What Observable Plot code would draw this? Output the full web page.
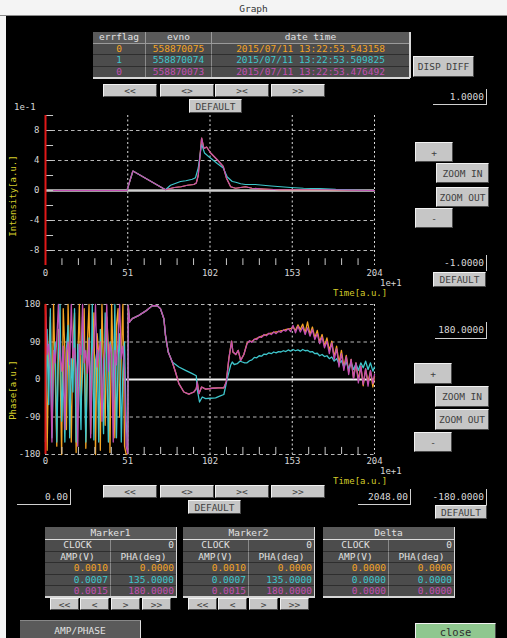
<!DOCTYPE html>
<html><head><meta charset="utf-8">
<script src="https://cdn.jsdelivr.net/npm/d3@7"></script>
<script src="https://cdn.jsdelivr.net/npm/@observablehq/plot@0.6"></script>
<style>
html,body{margin:0;padding:0;background:#fff;}
#root{position:relative;width:507px;height:638px;background:#f4f4f4;overflow:hidden;font-family:"DejaVu Sans Mono",monospace;font-size:9.5px;}
#panel{position:absolute;left:6px;top:16px;width:501px;height:622px;background:#000;}
.a{position:absolute;box-sizing:border-box;white-space:nowrap;overflow:hidden;}
.btn{background:#c6c6c6;color:#404040;text-align:center;border:1px solid;border-color:#f2f2f2 #4a4a4a #4a4a4a #f2f2f2;}
.fld{color:#d8d8d8;text-align:right;padding-right:2px;border-right:1px solid #d0d0d0;border-bottom:1px solid #d0d0d0;}
.hd{background:#5a5a5a;color:#e2e2e2;text-align:center;border-right:1px solid #9a9a9a;border-bottom:1px solid #9a9a9a;}
.cl{background:#4c4c4c;text-align:center;border-right:1px solid #8a8a8a;border-bottom:1px solid #2e2e2e;}
.r{text-align:right;padding-right:2px;}
.lbl{color:#d6d6d6;font-size:9px;}
.yl{color:#d4cc2a;font-size:9px;}
svg{position:absolute;left:0;}
</style></head>
<body><div id="root"><div id="panel"></div></div>
<script>
// ---------------- data ----------------
const seriesColors = ["#f4a323", "#3ec6cc", "#c24fb2"]; // orange, cyan, magenta
const infoHeaders = ["errflag", "evno", "date time"];
const errflags = ["0", "1", "0"];
const evnos = ["558870075", "558870074", "558870073"];
const datetimes = ["2015/07/11 13:22:53.543158", "2015/07/11 13:22:53.509825", "2015/07/11 13:22:53.476492"];

const xTickLabels = [0, 51, 102, 153, 204];
const xMinorTicks = [10.2, 20.4, 30.6, 40.8, 61.2, 71.4, 81.6, 91.8, 112.2, 122.4, 132.6, 142.8, 163.2, 173.4, 183.6, 193.8];
const intensityTicks = [8, 4, 0, -4, -8];
const intensityMinorTicks = [10, 8, 6, 4, 2, 0, -2, -4, -6, -8];
const intensityGrid = [8, 4, -4, -8];
const phaseTicks = [180, 90, 0, -90, -180];
const phaseGrid = [180, 90, -90, -180];

// intensity (x 1e-1), time (x 1e+1)
const intensityTimeMagenta = [0, 50.5, 54.2, 74.4, 76, 80, 84, 88, 92, 93.5, 94.7, 96.8, 98.2, 99.9, 102.4, 106.5, 110.2, 112.3, 114.8, 117.9, 121, 124, 128, 135, 145, 160, 175, 190, 204];
const intensityMagenta = [0, 0, 2.6, 0.1, 0.2, 0.4, 0.5, 0.7, 0.8, 1.0, 2.0, 7.0, 5.6, 5.8, 5.0, 4.1, 3.2, 1.6, 0.5, 0.3, 0.4, 0.5, 0.3, 0.2, 0.1, 0.1, 0.1, 0.05, 0];
const intensityTimeCyan = [0, 50.5, 54.2, 74.4, 77.5, 80, 83.7, 87, 91, 93, 94.7, 96.8, 98.6, 101.3, 106.5, 110.2, 112.7, 115.8, 118, 121, 124, 130, 140, 152, 160, 170, 180, 190, 204];
const intensityCyan = [0, 0, 2.6, 0.1, 0.7, 0.9, 1.2, 1.3, 1.5, 1.7, 3.0, 6.2, 5.0, 4.5, 3.6, 3.0, 1.8, 1.2, 1.1, 0.9, 0.8, 0.8, 0.6, 0.4, 0.3, 0.25, 0.15, 0.1, 0.0];
const intensityTimeOrange = intensityTimeMagenta;
const intensityOrange = intensityMagenta;

// phase (deg)
const noiseTime = [0,1,2,3,4,5,6,7,8,9,10,11,12,13,14,15,16,17,18,19,20,21,22,23,24,25,26,27,28,29,30,31,32,33,34,35,36,37,38,39,40,41,42,43,44,45,46,47,48,49,50];
const noiseOrange = [180,-170,60,150,-90,180,10,-160,120,40,-180,170,70,-120,180,30,-150,100,160,-175,50,180,-60,20,170,-165,90,180,-130,40,160,-180,110,60,-170,180,20,-110,150,80,-175,180,40,-140,130,170,-90,60,180,-160,-180];
const noiseCyan = [-150,120,-60,170,-140,40,90,-150,60,180,-100,20,-150,75,130,-140,50,-30,170,-150,85,10,-120,150,60,-150,30,100,-80,180,-145,45,70,-150,120,0,-130,160,40,-150,90,70,-60,180,-140,50,110,-150,20,90,-100];
const noiseMagenta = [175,60,85,30,-150,70,40,95,180,55,20,80,-120,65,90,35,180,50,75,25,-160,85,60,180,40,70,15,95,-140,55,80,180,30,65,90,-100,45,75,180,20,85,60,-150,70,35,95,180,50,80,25,-160];

const midTimeMagenta = [51,51.3,52.1,53.8,57.9,62,66.2,69.3,71.3,73.4,74.4,76.1,78.6,80.6,82.7,85.8,88.9,92,93.5,94.1,95.1,96.8,99.3,103.4,107,110.6,112.1,113.7,115.4,116.2,118,119.5,121,123];
const midMagenta = [-178,178,138,146,154,164,177,177,170,146,106,66,42,18,-10,-30,-35,-30,-22,-6,-34,-18,-23,-21,-20,-20,-6,50,92,66,60,70,46,60];
const midTimeCyan = [51,51.3,52.1,53.8,57.9,62,66.2,69.3,71.3,73.4,74.4,76.1,78.6,82.7,86.8,91,93.5,94.1,95.5,97.2,99.3,102,105.5,108,110.6,112.7,114.8,115.8,117,118.9,120.5,122,123.5];
const midCyan = [-178,178,138,146,154,164,177,177,170,146,106,66,42,30,22,14,9,-24,-54,-42,-46,-45,-44,-40,-36,2,34,42,36,38,44,42,40];
const midTimeOrange = midTimeMagenta;
const midOrange = midMagenta;

const tailTime = [125,126.5,128,129.5,131,132.5,134,135.5,137,138.5,140,141.5,143,144.5,146,147.5,149,150.5,152,153.5,155,156.5,158,159.5,161,162.5,164,165.5,167,168.5,170,171.5,173,174.5,176,177.5,179,180.5,182,183.5,185,186.5,188,189.5,191,192.5,194,195.5,197,198.5,200,201.5,203,204];
const tailOrange = [88,92,91,96,99,101,104,106,108,110,111,113,114,115,117,118,120,121,122,126,118,131,120,133,112,138,108,126,100,118,90,108,80,100,70,92,55,80,40,70,30,58,18,48,4,40,0,32,-15,25,-6,20,-18,8];
const tailCyan = [40,45,47,53,52,57,56,61,60,64,62,66,64,67,66,69,67,71,68,72,69,71,68,72,69,70,66,67,62,63,57,60,55,57,50,54,44,50,38,45,30,42,26,40,24,38,22,40,28,44,24,40,20,30];
const tailMagenta = [86,93,89,97,96,103,101,108,105,111,108,114,110,116,113,119,116,122,115,130,112,128,114,126,108,124,104,120,96,110,86,102,76,92,62,88,48,74,30,62,22,55,12,48,2,40,-8,32,-12,26,-16,22,-10,12];

// marker tables
const markerTitles = ["Marker1", "Marker2", "Delta"];
const clockValues = ["0", "0", "0"];
const ampValues = [["0.0010","0.0007","0.0015"],["0.0010","0.0007","0.0015"],["0.0000","0.0000","0.0000"]];
const phaValues = [["0.0000","135.0000","180.0000"],["0.0000","135.0000","180.0000"],["0.0000","0.0000","0.0000"]];

// ---------------- helpers ----------------
const root = document.getElementById("root");
function box(x, y, w, h, text, cls, st) {
  const d = document.createElement("div");
  d.className = "a " + cls;
  Object.assign(d.style, {left: x + "px", top: y + "px", width: w + "px", height: h + "px", lineHeight: (h - 1) + "px"});
  if (st) Object.assign(d.style, st);
  d.textContent = text;
  root.appendChild(d);
  return d;
}
const pts = (t, v) => t.map((x, i) => ({t: x, v: v[i]}));

// ---------------- charts ----------------
const commonStyle = {background: "transparent", fontFamily: "DejaVu Sans Mono", fontSize: "9px", overflow: "visible"};

const topChart = Plot.plot({
  width: 507, height: 200, marginLeft: 45, marginRight: 133, marginTop: 15, marginBottom: 35,
  x: {domain: [0, 204], axis: null}, y: {domain: [-10, 10], axis: null},
  style: commonStyle,
  marks: [
    Plot.ruleY(intensityGrid, {stroke: "#b8b8b8", strokeDasharray: "3.5,3", strokeWidth: 1}),
    Plot.ruleX(xTickLabels.slice(1), {stroke: "#e0e0e0", strokeDasharray: "2,2.5", strokeWidth: 1}),
    Plot.ruleY([0], {stroke: "#cfcfcf", strokeWidth: 2.5}),
    Plot.line(pts(intensityTimeOrange, intensityOrange), {x: "t", y: "v", stroke: seriesColors[0], strokeWidth: 1.2}),
    Plot.line(pts(intensityTimeCyan, intensityCyan), {x: "t", y: "v", stroke: seriesColors[1], strokeWidth: 1.2}),
    Plot.line(pts(intensityTimeMagenta, intensityMagenta), {x: "t", y: "v", stroke: seriesColors[2], strokeWidth: 1.2}),
    Plot.ruleY(intensityMinorTicks, {x1: 0, x2: 5, stroke: "#c8c8c8"}),
    Plot.ruleX(xMinorTicks, {y1: -10, y2: -9.1, stroke: "#c8c8c8"}),
    Plot.ruleX([0], {y1: -10, y2: 10, stroke: "#e01818", strokeWidth: 2}),
    Plot.text(intensityTicks, {x: 0, y: d => d, dx: -6, textAnchor: "end", fill: "#d6d6d6"}),
    Plot.text(xTickLabels, {x: d => d, y: -10, dy: 8, fill: "#d6d6d6"})
  ]
});
topChart.style.top = "100px";
root.appendChild(topChart);

const bottomChart = Plot.plot({
  width: 507, height: 200, marginLeft: 45, marginRight: 133, marginTop: 14, marginBottom: 36,
  x: {domain: [0, 204], axis: null}, y: {domain: [-180, 180], axis: null},
  style: commonStyle,
  marks: [
    Plot.ruleY(phaseGrid, {stroke: "#b8b8b8", strokeDasharray: "3.5,3", strokeWidth: 1}),
    Plot.ruleX(xTickLabels.slice(1), {stroke: "#e0e0e0", strokeDasharray: "2,2.5", strokeWidth: 1}),
    Plot.ruleY([0], {x1: 48, x2: 204, stroke: "#f4f4f4", strokeWidth: 2}),
    Plot.line(pts(noiseTime, noiseOrange).concat(pts(midTimeOrange, midOrange), pts(tailTime, tailOrange)), {x: "t", y: "v", stroke: seriesColors[0], strokeWidth: 1.3}),
    Plot.line(pts(noiseTime, noiseCyan).concat(pts(midTimeCyan, midCyan), pts(tailTime, tailCyan)), {x: "t", y: "v", stroke: seriesColors[1], strokeWidth: 1.3}),
    Plot.line(pts(noiseTime, noiseMagenta).concat(pts(midTimeMagenta, midMagenta), pts(tailTime, tailMagenta)), {x: "t", y: "v", stroke: seriesColors[2], strokeWidth: 1.3}),
    Plot.ruleX(xMinorTicks, {y1: -180, y2: -163, stroke: "#c8c8c8"}),
    Plot.ruleX([0], {y1: -180, y2: 180, stroke: "#e01818", strokeWidth: 2}),
    Plot.text(phaseTicks, {x: 0, y: d => d, dx: -5, textAnchor: "end", fill: "#d6d6d6"}),
    Plot.text(xTickLabels, {x: d => d, y: -180, dy: 7, fill: "#d6d6d6"})
  ]
});
bottomChart.style.top = "290px";
root.appendChild(bottomChart);

// ---------------- GUI ----------------
box(0, 3, 507, 12, "Graph", "", {textAlign: "center", color: "#333", fontSize: "9.5px"});
box(0, 15, 507, 1, "", "", {background: "#8a8a8a"});

// info table
const infoCols = [93, 146, 212, 410];
const infoRowY = [32, 43.5, 55, 66.5, 78];
infoHeaders.forEach((h, c) => box(infoCols[c], infoRowY[0], infoCols[c + 1] - infoCols[c], 11.5, h, "hd"));
for (let r = 0; r < 3; r++) {
  [errflags[r], evnos[r], datetimes[r]].forEach((t, c) =>
    box(infoCols[c], infoRowY[r + 1], infoCols[c + 1] - infoCols[c], 11.5, t, "cl", {color: seriesColors[r]}));
}
box(409, 32, 1.5, 46, "", "", {background: "#d8d8d8"});
box(93, 77, 317, 1.5, "", "", {background: "#d8d8d8"});
box(413, 56, 61, 21, "DISP DIFF", "btn");

// navigation buttons
const navLabels = ["<<", "<>", "><", ">>"];
const navX = [103, 160, 215, 271];
navLabels.forEach((l, i) => box(navX[i], 84, 54, 13, l, "btn"));
box(189, 99, 53, 14, "DEFAULT", "btn");
navLabels.forEach((l, i) => box(navX[i], 485, 54, 13, l, "btn"));
box(188, 500, 53, 14, "DEFAULT", "btn");

// fields
box(433, 89, 54, 16, "1.0000", "fld");
box(433, 255, 54, 16, "-1.0000", "fld", {borderBottom: "none"});
box(435, 322, 52, 17, "180.0000", "fld");
box(17, 489, 54, 16, "0.00", "fld");
box(358, 489, 53, 16, "2048.00", "fld");
box(432, 489, 55, 16, "-180.0000", "fld", {borderBottom: "none"});

// zoom controls
box(415, 142, 38, 20, "+", "btn");
box(436, 163, 53, 20, "ZOOM IN", "btn");
box(436, 187, 53, 20, "ZOOM OUT", "btn");
box(415, 208, 38, 20, "-", "btn");
box(433, 272, 53, 15, "DEFAULT", "btn");
box(414, 363, 38, 21, "+", "btn");
box(435, 386, 54, 21, "ZOOM IN", "btn");
box(435, 409, 54, 21, "ZOOM OUT", "btn");
box(414, 432, 38, 20, "-", "btn");
box(435, 505, 52, 14, "DEFAULT", "btn");

// axis labels
box(14, 102, 28, 11, "1e-1", "lbl");
box(380, 279, 24, 9, "1e+1", "lbl", {lineHeight: "9px"});
box(333, 288, 60, 10, "Time[a.u.]", "yl", {lineHeight: "10px"});
box(380, 467, 24, 9, "1e+1", "lbl", {lineHeight: "9px"});
box(333, 476, 60, 10, "Time[a.u.]", "yl", {lineHeight: "10px"});
box(-36, 190, 100, 12, "Intensity[a.u.]", "yl", {textAlign: "center", transform: "rotate(-90deg)"});
box(-36, 384, 100, 12, "Phase[a.u.]", "yl", {textAlign: "center", transform: "rotate(-90deg)"});

// marker tables
const tableX = [45, 183, 323];
const tableW = 132;
const rowY = [540, 551.5, 563, 574.5, 586];
markerTitles.forEach((title, k) => {
  const x = tableX[k], half = tableW / 2;
  box(x, 527, tableW, 12.5, title, "hd", {borderRight: "1px solid #dcdcdc", borderBottom: "1px solid #dcdcdc"});
  box(x, rowY[0], half, 11.5, "CLOCK", "cl", {color: "#e0e0e0"});
  box(x + half, rowY[0], half, 11.5, clockValues[k], "cl r", {color: "#e0e0e0"});
  box(x, rowY[1], half, 11.5, "AMP(V)", "cl", {color: "#e0e0e0"});
  box(x + half, rowY[1], half, 11.5, "PHA(deg)", "cl", {color: "#e0e0e0"});
  for (let r = 0; r < 3; r++) {
    box(x, rowY[r + 2], half, 11.5, ampValues[k][r], "cl r", {color: seriesColors[r]});
    box(x + half, rowY[r + 2], half, 11.5, phaValues[k][r], "cl r", {color: seriesColors[r]});
  }
  box(x + tableW - 1.5, 540, 1.5, 57.5, "", "", {background: "#d8d8d8"});
  box(x, 596, tableW, 1.5, "", "", {background: "#d8d8d8"});
});
const markerBtnLabels = ["<<", "<", ">", ">>"];
const markerBtnDX = [5, 35, 66, 97];
[0, 1].forEach(k => markerBtnLabels.forEach((l, i) => box(tableX[k] + markerBtnDX[i], 598, 29, 12, l, "btn")));

box(20, 620, 121, 20, "AMP/PHASE", "hd", {borderRight: "1px solid #e0e0e0", borderTop: "1px solid #888", borderBottom: "none"});
box(415, 623, 81, 17, "close", "btn", {background: "#8fc78f", color: "#2e2e2e", fontSize: "10.5px"});
</script>
</body></html>
